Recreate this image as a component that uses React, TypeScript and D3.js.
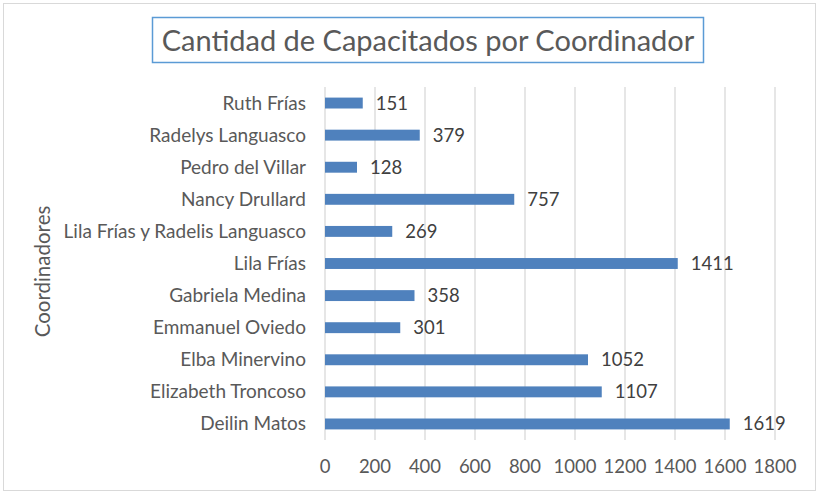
import React from "react";
import * as d3 from "d3";

const coordinadores = [
  "Ruth Frías",
  "Radelys Languasco",
  "Pedro del Villar",
  "Nancy Drullard",
  "Lila Frías y Radelis Languasco",
  "Lila Frías",
  "Gabriela Medina",
  "Emmanuel Oviedo",
  "Elba Minervino",
  "Elizabeth Troncoso",
  "Deilin Matos",
];
const capacitados = [151, 379, 128, 757, 269, 1411, 358, 301, 1052, 1107, 1619];
const ticks = [0, 200, 400, 600, 800, 1000, 1200, 1400, 1600, 1800];

const W = 820;
const H = 493;
const margin = { top: 87, right: 45, bottom: 53, left: 325 };
const FONT = "Lato, 'Open Sans', sans-serif";

const App = () => {
  const x = d3
    .scaleLinear()
    .domain([0, 1800])
    .range([margin.left, W - margin.right]);

  const y = d3
    .scaleBand()
    .domain(coordinadores)
    .range([margin.top, H - margin.bottom])
    .paddingInner(0.66)
    .paddingOuter(0.33);

  const data = coordinadores.map((c, i) => ({ name: c, value: capacitados[i] }));

  return (
    <svg
      width={W}
      height={H}
      style={{ position: "absolute", left: 0, top: 0, background: "#fff" }}
      fontFamily={FONT}
    >
      <rect x={3.5} y={3.5} width={812} height={487} fill="#fff" stroke="#d9d9d9" />

      {/* title */}
      <rect x={152.5} y={17.5} width={551} height={45} fill="none" stroke="#5b9bd5" strokeWidth={1.5} />
      <text x={428} y={50.5} textAnchor="middle" fontSize={29} fill="#595959">
        Cantidad de Capacitados por Coordinador
      </text>

      {/* grid */}
      {ticks.map((t) => (
        <line
          key={t}
          x1={x(t)}
          x2={x(t)}
          y1={margin.top}
          y2={H - margin.bottom}
          stroke="#d9d9d9"
          strokeWidth={1.3}
        />
      ))}

      {/* tick labels */}
      {ticks.map((t) => (
        <text key={t} x={x(t)} y={473} textAnchor="middle" fontSize={18.5} fill="#595959">
          {t}
        </text>
      ))}

      {/* bars */}
      {data.map((d) => (
        <g key={d.name}>
          <rect
            x={x(0)}
            y={y(d.name)!}
            width={x(d.value) - x(0)}
            height={y.bandwidth()}
            fill="#4f81bd"
          />
          <text
            x={x(d.value) + 13}
            y={y(d.name)! + y.bandwidth() / 2 + 6.5}
            fontSize={18.5}
            fill="#404040"
          >
            {d.value}
          </text>
          <text
            x={306}
            y={y(d.name)! + y.bandwidth() / 2 + 6.5}
            textAnchor="end"
            fontSize={19}
            fill="#595959"
          >
            {d.name}
          </text>
        </g>
      ))}

      {/* y axis title */}
      <text
        transform={`translate(50,${(margin.top + H - margin.bottom) / 2 + 8}) rotate(-90)`}
        textAnchor="middle"
        fontSize={20.5}
        fill="#595959"
      >
        Coordinadores
      </text>
    </svg>
  );
};

export default App;
